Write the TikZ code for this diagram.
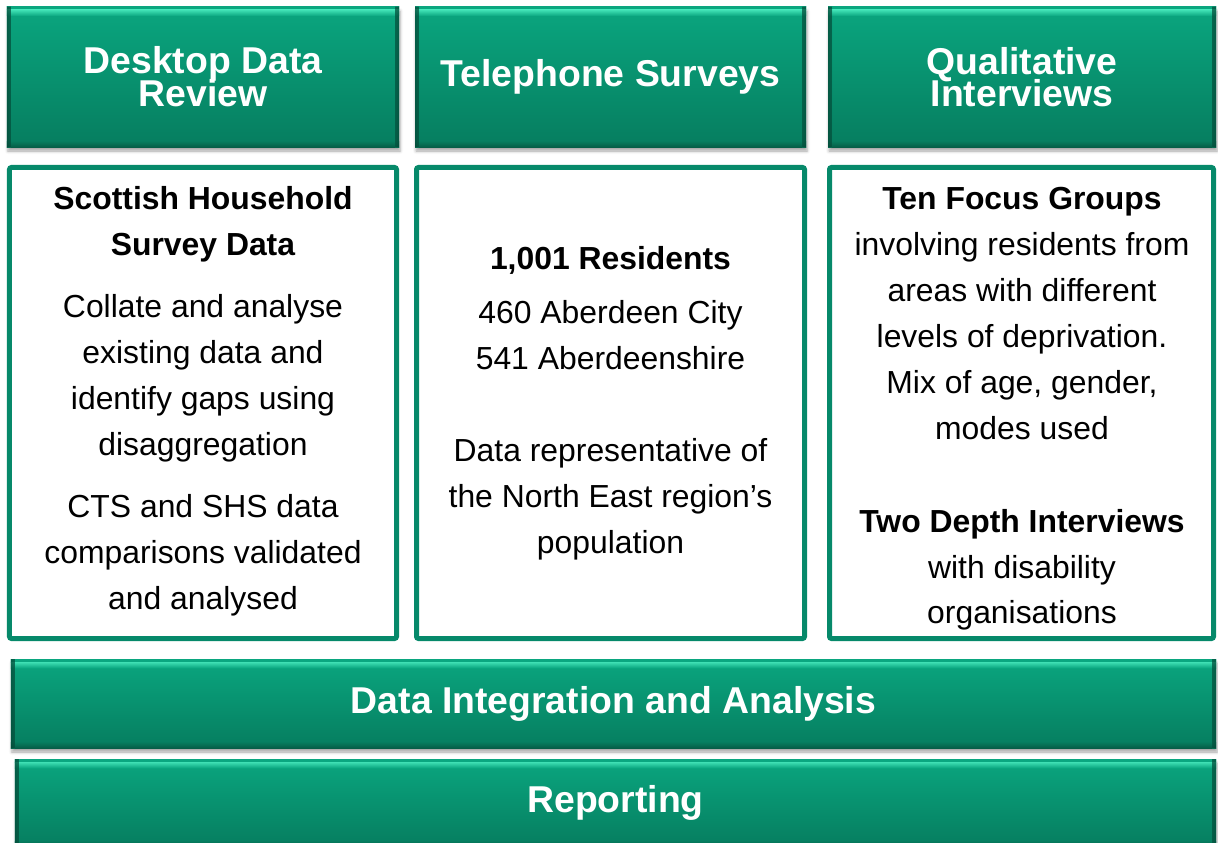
\documentclass[tikz,border=0pt]{standalone}
\usepackage{fontspec}
\setmainfont{Liberation Sans}
\usetikzlibrary{shadows.blur}

\definecolor{tealtop}{HTML}{0AA67F}
\definecolor{tealbot}{HTML}{067D5F}
\definecolor{tealhi}{HTML}{3FE0B4}
\definecolor{tealdark}{HTML}{055E47}
\definecolor{tealline}{HTML}{06896A}

\tikzset{
  x=1bp, y=-1bp,
  bevelbox/.style={rectangle, inner sep=0pt, text=white, align=center,
    font=\fontsize{37.5}{32}\selectfont\bfseries,
    top color=tealtop, bottom color=tealbot, draw=none,
    blur shadow={shadow xshift=1bp, shadow yshift=-4bp, shadow opacity=35, shadow blur radius=3bp},
    path picture={
      \fill[top color=tealtop, bottom color=tealhi]
        (path picture bounding box.north west) rectangle
        ([yshift=-3bp]path picture bounding box.north east);
      \fill[top color=tealhi, bottom color=tealtop]
        ([yshift=-3bp]path picture bounding box.north west) rectangle
        ([yshift=-9bp]path picture bounding box.north east);
      \fill[top color=tealbot, bottom color=tealdark]
        ([yshift=6bp]path picture bounding box.south west) rectangle
        (path picture bounding box.south east);
      \fill[left color=tealdark!60!tealbot, right color=tealbot, opacity=0.5]
        (path picture bounding box.south west) rectangle
        ([xshift=4bp]path picture bounding box.north west);
      \fill[right color=tealdark!60!tealbot, left color=tealbot, opacity=0.5]
        (path picture bounding box.south east) rectangle
        ([xshift=-4bp]path picture bounding box.north east);
    }},
  framebox/.style={rectangle, draw=tealline, line width=5bp, rounded corners=2bp, fill=white, inner sep=0pt},
  txt/.style={anchor=base, inner sep=0pt, font=\fontsize{32}{38}\selectfont},
  txtb/.style={txt, font=\fontsize{32}{38}\selectfont\bfseries},
}

\begin{document}
\begin{tikzpicture}
\useasboundingbox (0,0) rectangle (1218,843);
\clip (0,0) rectangle (1218,843);

% column headers
\node[bevelbox, minimum width=392bp, minimum height=140bp] (h1) at (203,77) {Desktop Data\\[-3bp]Review};
\node[bevelbox, minimum width=391bp, minimum height=140bp] (h2) at (610.5,77) {Telephone Surveys};
\node[bevelbox, minimum width=388bp, minimum height=140bp] (h3) at (1022,77) {Qualitative\\[-3bp]Interviews};

% column bodies
\node[framebox, minimum width=387bp, minimum height=471bp] (b1) at (203,403) {};
\node[framebox, minimum width=388bp, minimum height=471bp] (b2) at (610.5,403) {};
\node[framebox, minimum width=384bp, minimum height=471bp] (b3) at (1021.5,403) {};

% Desktop Data Review
\node[txtb] (t11) at (203,209) {Scottish Household};
\node[txtb] (t12) at (203,255) {Survey Data};
\node[txt]  (t13) at (203,317) {Collate and analyse};
\node[txt]  (t14) at (203,363) {existing data and};
\node[txt]  (t15) at (203,409) {identify gaps using};
\node[txt]  (t16) at (203,455) {disaggregation};
\node[txt]  (t17) at (203,517) {CTS and SHS data};
\node[txt]  (t18) at (203,563) {comparisons validated};
\node[txt]  (t19) at (203,609) {and analysed};

% Telephone Surveys
\node[txtb] (t21) at (610.5,269) {1,001 Residents};
\node[txt]  (t22) at (610.5,323) {460 Aberdeen City};
\node[txt]  (t23) at (610.5,369) {541 Aberdeenshire};
\node[txt]  (t24) at (610.5,461) {Data representative of};
\node[txt]  (t25) at (610.5,507) {the North East region’s};
\node[txt]  (t26) at (610.5,553) {population};

% Qualitative Interviews
\node[txtb] (t31) at (1022,209) {Ten Focus Groups};
\node[txt]  (t32) at (1022,255) {involving residents from};
\node[txt]  (t33) at (1022,301) {areas with different};
\node[txt]  (t34) at (1022,347) {levels of deprivation.};
\node[txt]  (t35) at (1022,393) {Mix of age, gender,};
\node[txt]  (t36) at (1022,439) {modes used};
\node[txtb] (t37) at (1022,532) {Two Depth Interviews};
\node[txt]  (t38) at (1022,578) {with disability};
\node[txt]  (t39) at (1022,623) {organisations};

% full-width stages
\node[bevelbox, minimum width=1205bp, minimum height=89bp] (s1) at (613.5,703.5) {Data Integration and Analysis};
\node[bevelbox, minimum width=1201bp, minimum height=88bp] (s2) at (615.5,803) {Reporting};
\end{tikzpicture}
\end{document}
